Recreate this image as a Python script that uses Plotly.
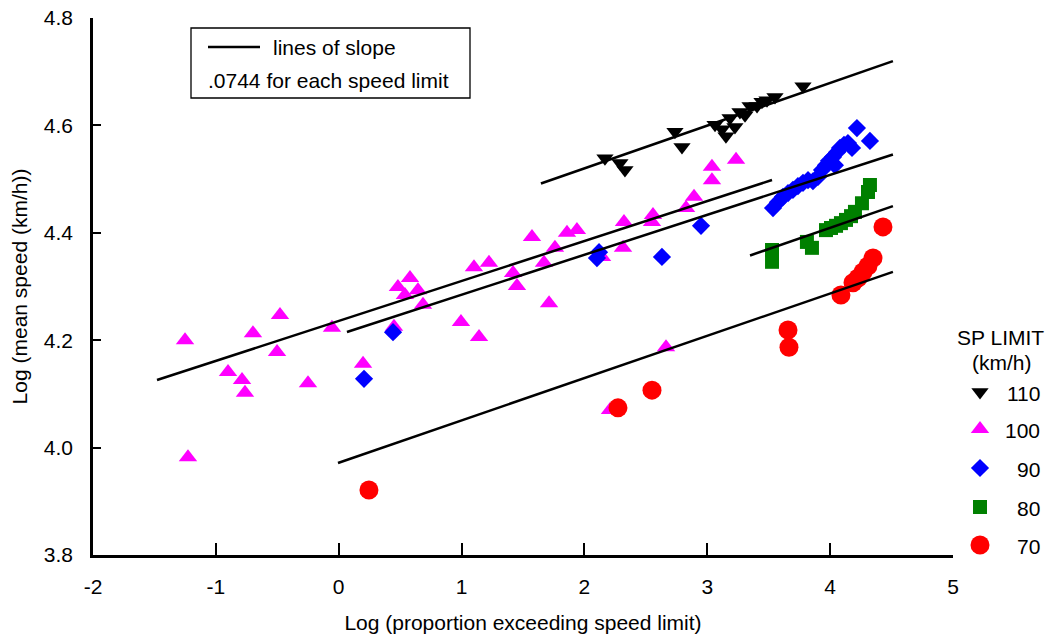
import plotly.graph_objects as go

# ---------------- data ----------------
x110 = [2.167, 2.289, 2.330, 2.737, 2.794, 3.063, 3.120, 3.152, 3.185, 3.225,
        3.266, 3.307, 3.348, 3.405, 3.445, 3.486, 3.551, 3.779]
y110 = [4.539, 4.530, 4.517, 4.588, 4.560, 4.601, 4.593, 4.580, 4.614, 4.597,
        4.625, 4.619, 4.636, 4.636, 4.644, 4.647, 4.653, 4.673]

x100 = [-1.251, -1.227, -0.901, -0.787, -0.763, -0.698, -0.502, -0.478, -0.250, -0.055,
        0.198, 0.450, 0.482, 0.539, 0.580, 0.645, 0.686, 0.995, 1.101, 1.142,
        1.223, 1.419, 1.451, 1.573, 1.671, 1.712, 1.760, 1.858, 1.939, 2.143,
        2.208, 2.314, 2.322, 2.550, 2.558, 2.664, 2.827, 2.892, 3.038, 3.038,
        3.234]
y100 = [4.200, 3.982, 4.141, 4.126, 4.102, 4.213, 4.178, 4.247, 4.120, 4.223,
        4.156, 4.225, 4.299, 4.284, 4.316, 4.293, 4.266, 4.234, 4.336, 4.206,
        4.344, 4.325, 4.301, 4.392, 4.344, 4.269, 4.372, 4.400, 4.405, 4.355,
        4.070, 4.372, 4.420, 4.420, 4.433, 4.187, 4.446, 4.467, 4.498, 4.523,
        4.536]

x90 = [0.206, 0.442, 2.119, 2.102, 2.631, 2.949,
       3.535, 3.575, 3.616, 3.657, 3.697, 3.738, 3.779, 3.820, 3.860, 3.901,
       3.934, 3.966, 3.991, 4.023, 4.039, 4.056, 4.080, 4.113, 4.145, 4.178,
       4.218, 4.324]
y90 = [4.128, 4.215, 4.364, 4.353, 4.355, 4.413,
       4.446, 4.457, 4.467, 4.474, 4.480, 4.487, 4.493, 4.498, 4.496, 4.504,
       4.517, 4.526, 4.534, 4.541, 4.526, 4.550, 4.558, 4.564, 4.567, 4.558,
       4.595, 4.571]

x80 = [3.527, 3.527, 3.811, 3.852, 3.966, 4.007, 4.048, 4.088, 4.129, 4.170,
       4.202, 4.259, 4.308, 4.324]
y80 = [4.368, 4.346, 4.383, 4.372, 4.405, 4.409, 4.413, 4.418, 4.424, 4.431,
       4.439, 4.455, 4.476, 4.489]

x70 = [0.246, 2.273, 2.550, 3.657, 3.665, 4.088, 4.186, 4.227, 4.267, 4.308,
       4.349, 4.430]
y70 = [3.921, 4.074, 4.107, 4.219, 4.187, 4.284, 4.307, 4.316, 4.327, 4.338,
       4.353, 4.411]

speed_limits = ["110", "100", "90", "80", "70"]

# fitted lines (one per speed limit): y = intercept + slope * x over [x_start, x_end]
line_x_start = [1.646, -1.479, 0.067, 3.348, -0.006]
line_x_end = [4.511, 3.527, 4.511, 4.511, 4.511]
line_intercept = [4.3607, 4.2359, 4.2103, 4.0933, 3.9718]
line_slope = [0.0796, 0.0744, 0.0744, 0.0790, 0.0788]

x_ticks = [-2, -1, 0, 1, 2, 3, 4, 5]
y_ticks = [3.8, 4.0, 4.2, 4.4, 4.6, 4.8]

# ---------------- styles ----------------
FONT = "Liberation Sans, Arial, sans-serif"
FS = 21
series = [
    (x110, y110, "triangle-down", 15, "#000000"),
    (x100, y100, "triangle-up", 16, "#FF00FF"),
    (x90, y90, "diamond", 14, "#0000FF"),
    (x80, y80, "square", 14, "#008000"),
    (x70, y70, "circle", 19, "#FF0000"),
]

W, H = 1047, 634
ML, MR, MT, MB = 93, 0, 18, 79
PW = W - ML - MR
PH = H - MT - MB
main_right_px = 953
leg_left_px = 960


def px_to_paper_x(px):
    return (px - ML) / PW


def px_to_paper_y(py):
    return (H - MB - py) / PH


fig = go.Figure()

for xs, ys, sym, size, col in series:
    fig.add_trace(go.Scatter(
        x=xs, y=ys, mode="markers",
        marker=dict(symbol=sym, size=size, color=col, line=dict(width=0)),
        showlegend=False, hoverinfo="x+y",
    ))

for x0, x1, a, b in zip(line_x_start, line_x_end, line_intercept, line_slope):
    fig.add_trace(go.Scatter(
        x=[x0, x1], y=[a + b * x0, a + b * x1], mode="lines",
        line=dict(color="black", width=2.5),
        showlegend=False, hoverinfo="skip",
    ))

# custom legend on the right (pixel-scaled helper axes)
leg_marker_x = 980
leg_rows_y = [392, 429, 468, 507, 545]
for (xs, ys, sym, size, col), ly in zip(series, leg_rows_y):
    fig.add_trace(go.Scatter(
        x=[leg_marker_x], y=[ly], mode="markers", xaxis="x2", yaxis="y2",
        marker=dict(symbol=sym, size=size, color=col, line=dict(width=0)),
        showlegend=False, hoverinfo="skip",
    ))

annotations = []
for lab, ly in zip(speed_limits, leg_rows_y):
    annotations.append(dict(x=1042, y=ly + 1, xref="x2", yref="y2", text=lab,
                            showarrow=False, xanchor="right", yanchor="middle",
                            font=dict(family=FONT, size=FS, color="black")))
annotations.append(dict(x=1000, y=337, xref="x2", yref="y2", text="SP LIMIT",
                        showarrow=False, xanchor="center", yanchor="middle",
                        font=dict(family=FONT, size=FS, color="black")))
annotations.append(dict(x=1002, y=362, xref="x2", yref="y2", text="(km/h)",
                        showarrow=False, xanchor="center", yanchor="middle",
                        font=dict(family=FONT, size=FS, color="black")))

# note box top-left
annotations.append(dict(x=px_to_paper_x(271), y=px_to_paper_y(47), xref="paper", yref="paper",
                        text="lines of slope", showarrow=False, xanchor="left", yanchor="middle",
                        font=dict(family=FONT, size=FS, color="black")))
annotations.append(dict(x=px_to_paper_x(206), y=px_to_paper_y(80), xref="paper", yref="paper",
                        text=".0744 for each speed limit", showarrow=False, xanchor="left",
                        yanchor="middle", font=dict(family=FONT, size=FS, color="black")))

shapes = [
    dict(type="rect", xref="paper", yref="paper",
         x0=px_to_paper_x(191), x1=px_to_paper_x(470),
         y0=px_to_paper_y(98), y1=px_to_paper_y(28),
         line=dict(color="black", width=1.3), fillcolor="rgba(0,0,0,0)"),
    dict(type="line", xref="paper", yref="paper",
         x0=px_to_paper_x(208), x1=px_to_paper_x(260),
         y0=px_to_paper_y(47), y1=px_to_paper_y(47),
         line=dict(color="black", width=2.5)),
]

fig.update_layout(
    width=W, height=H, autosize=False,
    margin=dict(l=ML, r=MR, t=MT, b=MB, pad=0, autoexpand=False),
    paper_bgcolor="white", plot_bgcolor="white",
    font=dict(family=FONT, size=FS, color="black"),
    showlegend=False,
    annotations=annotations,
    shapes=shapes,
    xaxis=dict(
        domain=[0, px_to_paper_x(main_right_px)],
        range=[-2, 5], tickvals=x_ticks, ticktext=[str(v) for v in x_ticks],
        showgrid=False, zeroline=False, automargin=False,
        showline=True, linecolor="black", linewidth=2.5,
        ticks="inside", ticklen=12, tickwidth=2, tickcolor="black",
        ticklabelstandoff=11,
        tickfont=dict(family=FONT, size=FS, color="black"),
        title=dict(text="Log (proportion exceeding speed limit)", standoff=22,
                   font=dict(family=FONT, size=FS, color="black")),
    ),
    yaxis=dict(
        range=[3.8, 4.8], tickvals=y_ticks, ticktext=[f"{v:.1f}" for v in y_ticks],
        showgrid=False, zeroline=False, automargin=False,
        showline=True, linecolor="black", linewidth=2.5,
        ticks="inside", ticklen=8, tickwidth=2, tickcolor="black",
        ticklabelstandoff=13,
        tickfont=dict(family=FONT, size=FS, color="black"),
        title=dict(text="Log (mean speed (km/h))", standoff=11,
                   font=dict(family=FONT, size=FS, color="black")),
    ),
    xaxis2=dict(domain=[px_to_paper_x(leg_left_px), 1], range=[leg_left_px, W - MR],
                anchor="y2", visible=False, fixedrange=True, automargin=False),
    yaxis2=dict(domain=[0, 1], range=[H - MB, MT], anchor="x2",
                visible=False, fixedrange=True, automargin=False),
)

fig.write_html("out.html", config={"displayModeBar": False},
               post_script="document.body.style.margin='0';")
